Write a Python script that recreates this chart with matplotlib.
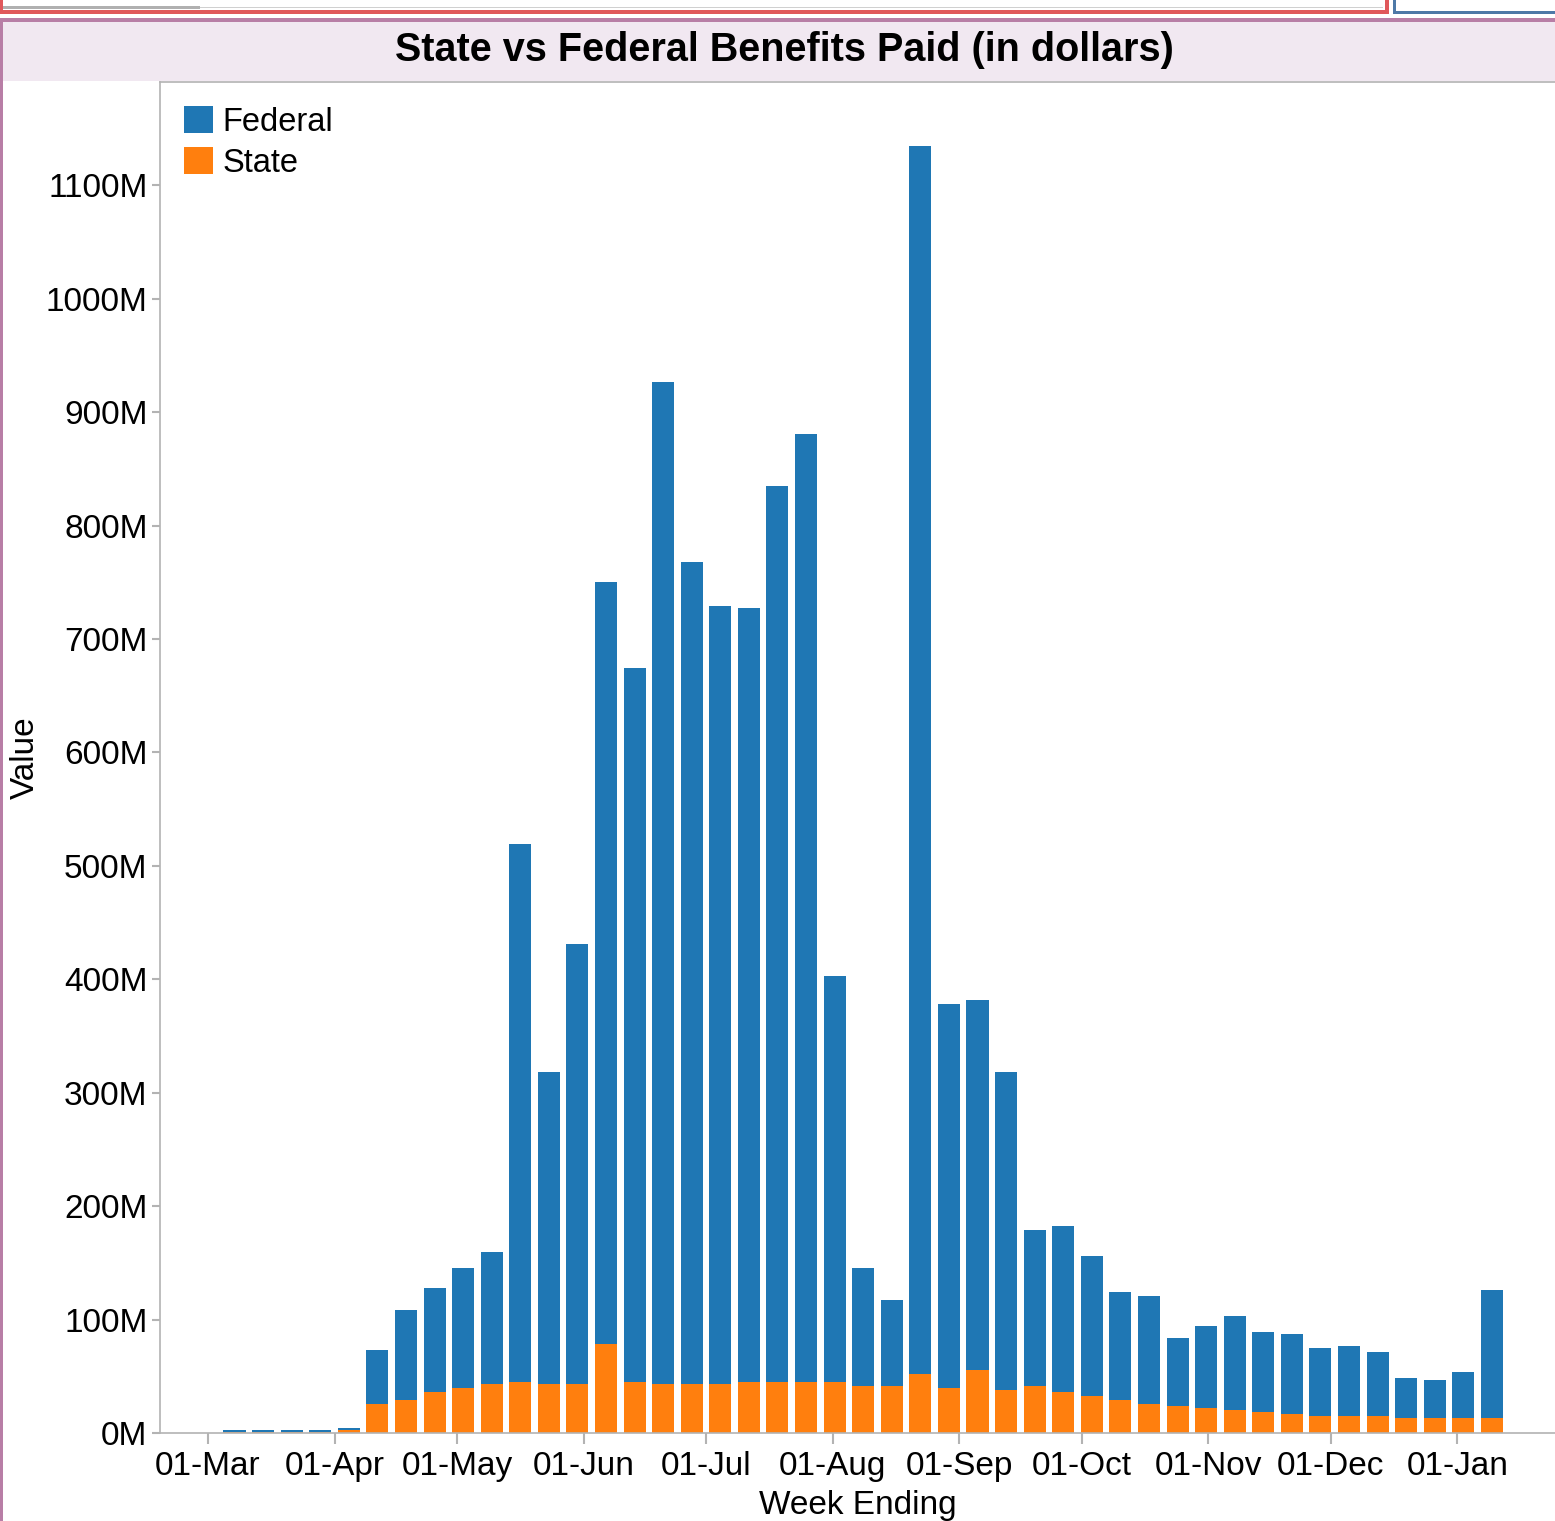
import matplotlib
matplotlib.use("Agg")
import matplotlib.pyplot as plt
import matplotlib.dates as mdates
from matplotlib.patches import Rectangle
from matplotlib.ticker import FuncFormatter, MultipleLocator
import pandas as pd

plt.rcParams["font.family"] = ["Liberation Sans", "DejaVu Sans"]

# week ending dates (Saturdays)
week_ending = [
    "2020-03-07", "2020-03-14", "2020-03-21", "2020-03-28", "2020-04-04",
    "2020-04-11", "2020-04-18", "2020-04-25", "2020-05-02", "2020-05-09",
    "2020-05-16", "2020-05-23", "2020-05-30", "2020-06-06", "2020-06-13",
    "2020-06-20", "2020-06-27", "2020-07-04", "2020-07-11", "2020-07-18",
    "2020-07-25", "2020-08-01", "2020-08-08", "2020-08-15", "2020-08-22",
    "2020-08-29", "2020-09-05", "2020-09-12", "2020-09-19", "2020-09-26",
    "2020-10-03", "2020-10-10", "2020-10-17", "2020-10-24", "2020-10-31",
    "2020-11-07", "2020-11-14", "2020-11-21", "2020-11-28", "2020-12-05",
    "2020-12-12", "2020-12-19", "2020-12-26", "2021-01-02", "2021-01-09",
]

# millions of dollars
state = [
    1.2, 1.2, 1.2, 1.2, 2.9,
    25.9, 29.4, 36.4, 40.0, 43.5,
    45.3, 43.5, 43.5, 78.8, 45.3,
    43.5, 43.5, 43.5, 45.3, 45.3,
    45.3, 45.3, 41.7, 41.7, 52.3,
    40.0, 55.8, 38.2, 41.7, 36.4,
    32.9, 29.4, 25.9, 24.1, 22.3,
    20.6, 18.8, 17.0, 15.3, 15.3,
    15.3, 13.5, 13.5, 13.5, 13.5,
]
federal = [
    1.7, 1.7, 1.7, 1.7, 1.8,
    47.6, 78.6, 91.6, 105.7, 116.3,
    474.3, 275.0, 387.8, 671.6, 629.3,
    883.2, 724.5, 685.7, 682.1, 789.7,
    835.5, 357.8, 104.0, 75.8, 1082.4,
    338.4, 326.2, 280.3, 137.5, 146.3,
    123.4, 95.2, 95.2, 59.9, 72.4,
    82.9, 70.5, 70.5, 59.9, 61.7,
    56.4, 35.3, 33.5, 40.6, 112.9,
]

W, H = 1555, 1521
fig = plt.figure(figsize=(W / 100, H / 100), dpi=100)


def box(x0, y0, x1, y1, color):
    # pixel box, y measured from the top
    fig.add_artist(Rectangle((x0 / W, 1 - y1 / H), (x1 - x0) / W, (y1 - y0) / H,
                             transform=fig.transFigure, facecolor=color,
                             edgecolor="none", zorder=0))


# dashboard frame pieces
box(0, 0, 1389, 14, "#ffffff")
box(0, 10, 1389, 14, "#e0585b")
box(0, 0, 3, 14, "#e0585b")
box(1385, 0, 1389, 14, "#e0585b")
box(3, 6, 200, 9, "#b0b0b0")
box(200, 7, 1383, 8, "#d0d0d0")
box(1393, 0, 1396, 14, "#4e79a7")
box(1393, 11, W, 14, "#4e79a7")
box(0, 18, W, 22, "#b87ea6")
box(0, 18, 3, H, "#b87ea6")
box(3, 22, W, 81, "#f1e8f1")

fig.text(784 / W, 1 - 50 / H, "State vs Federal Benefits Paid (in dollars)",
         ha="center", va="center", fontsize=28.5, fontweight="bold")

ax_w, ax_h = W - 160, 1433 - 82
ax = fig.add_axes([160 / W, (H - 1433) / H, ax_w / W, ax_h / H])

dates = pd.to_datetime(week_ending) + pd.Timedelta(hours=12)
bar_w = 5.4
ax.bar(dates, state, width=bar_w, color="#ff7f0e", label="State", zorder=2)
ax.bar(dates, federal, bottom=state, width=bar_w, color="#1f77b4",
       label="Federal", zorder=2)

ax.set_xlim(pd.Timestamp("2020-02-18 06:00"), pd.Timestamp("2021-01-24 23:00"))
ax.set_ylim(0, 1191)

ax.yaxis.set_major_locator(MultipleLocator(100))
ax.yaxis.set_major_formatter(FuncFormatter(lambda v, p: f"{v:.0f}M"))
ax.xaxis.set_major_locator(mdates.MonthLocator())
ax.xaxis.set_major_formatter(mdates.DateFormatter("%d-%b"))

gray = "#b3b3b3"
for side in ("left", "top", "bottom"):
    ax.spines[side].set_color(gray)
    ax.spines[side].set_linewidth(1.2)
ax.spines["right"].set_visible(False)
ax.tick_params(axis="both", colors=gray, labelcolor="black", labelsize=24,
               width=1.5)
ax.tick_params(axis="x", length=8, pad=5)
ax.tick_params(axis="y", length=6, pad=3)

ax.set_ylabel("Value", fontsize=24)
ax.yaxis.set_label_coords(-135 / ax_w, 0.5)
ax.yaxis.label.set_va("center")
ax.set_xlabel("Week Ending", fontsize=24, labelpad=6)

handles, labels = ax.get_legend_handles_labels()
ax.legend(handles[::-1], labels[::-1], loc="upper left",
          bbox_to_anchor=(24 / ax_w, 1 - 24 / ax_h),
          borderaxespad=0, borderpad=0, frameon=False, fontsize=23.5,
          handlelength=0.88, handleheight=0.88, handletextpad=0.3,
          labelspacing=0.3)

# the 0M label sits a little above its tick, as in the reference
fig.canvas.draw()
ax.yaxis.get_major_ticks()[0].label1.set_verticalalignment("bottom")

fig.savefig("out.png", dpi=100)
